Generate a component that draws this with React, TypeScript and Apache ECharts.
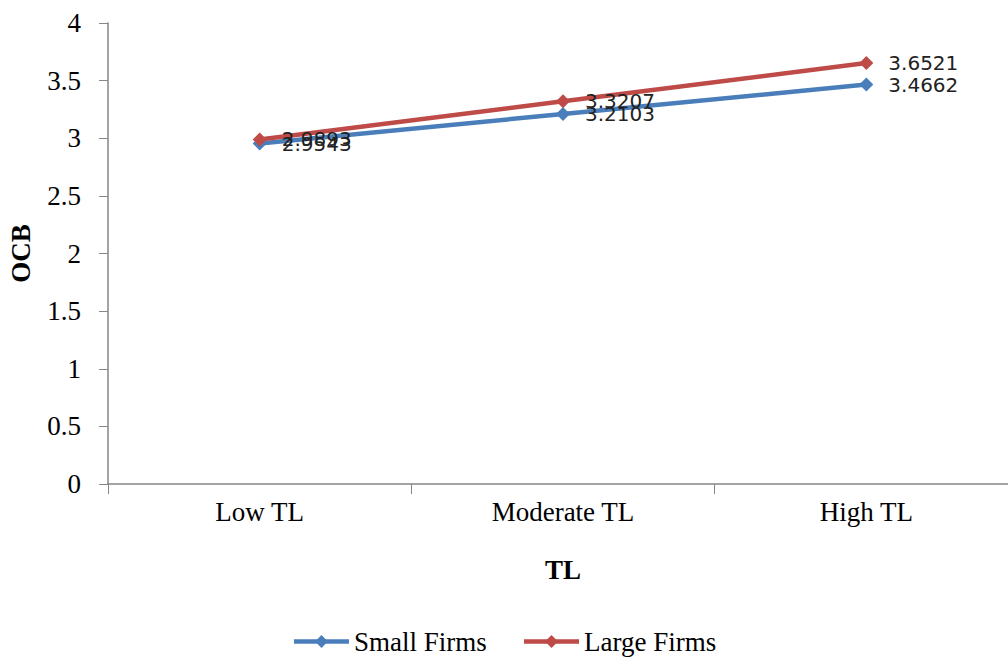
import React, { useEffect, useRef } from "react";
import * as echarts from "echarts";

// Category labels along the TL axis
const categories: string[] = ["Low TL", "Moderate TL", "High TL"];

// OCB means per firm size
const smallFirms: number[] = [2.9543, 3.2103, 3.4662];
const largeFirms: number[] = [2.9893, 3.3207, 3.6521];

const seriesNames: string[] = ["Small Firms", "Large Firms"];

const SERIF = "'Liberation Serif', 'DejaVu Serif', serif";
const SANS = "'DejaVu Sans', Verdana, sans-serif";
const AXIS_GRAY = "#868686";
const BLUE = "#4A7EBB";
const RED = "#BE4B48";

export default function App() {
  const ref = useRef<HTMLDivElement | null>(null);

  useEffect(() => {
    if (!ref.current) return;
    const chart = echarts.init(ref.current, undefined, { renderer: "svg" });

    const makeSeries = (name: string, data: number[], color: string) => ({
      name,
      type: "line",
      data,
      symbol: "diamond",
      symbolSize: 14,
      lineStyle: { color, width: 4.5 },
      itemStyle: { color },
      label: {
        show: true,
        position: "right",
        distance: 15,
        formatter: (p: any) => p.value.toFixed(4),
        fontFamily: SANS,
        fontSize: 20,
        color: "#222222",
      },
    });

    chart.setOption({
      animation: false,
      backgroundColor: "#ffffff",
      grid: {
        left: 108,
        right: -10,
        top: 23,
        bottom: 176,
        containLabel: false,
        outerBoundsMode: "none",
      },
      xAxis: {
        type: "category",
        data: categories,
        boundaryGap: true,
        name: "TL",
        nameLocation: "middle",
        nameGap: 72,
        nameTextStyle: { fontFamily: SERIF, fontSize: 27, fontWeight: "bold", color: "#000" },
        axisLine: { show: true, lineStyle: { color: AXIS_GRAY, width: 1.5 } },
        axisTick: { show: true, alignWithLabel: false, length: 10, lineStyle: { color: AXIS_GRAY } },
        axisLabel: { fontFamily: SERIF, fontSize: 27, color: "#000", margin: 14 },
        splitLine: { show: false },
      },
      yAxis: {
        type: "value",
        min: 0,
        max: 4,
        interval: 0.5,
        name: "OCB",
        nameLocation: "middle",
        nameGap: 74,
        nameRotate: 90,
        nameTextStyle: { fontFamily: SERIF, fontSize: 27, fontWeight: "bold", color: "#000" },
        axisLine: { show: true, lineStyle: { color: AXIS_GRAY, width: 1.5 } },
        axisTick: { show: true, inside: false, length: 9, lineStyle: { color: AXIS_GRAY } },
        axisLabel: { fontFamily: SERIF, fontSize: 27, color: "#000", margin: 27 },
        splitLine: { show: false },
      },
      legend: {
        data: seriesNames,
        bottom: 0,
        left: "center",
        itemWidth: 55,
        itemHeight: 16,
        itemGap: 35,
        lineStyle: { width: 4.5 },
        textStyle: { fontFamily: SERIF, fontSize: 27, color: "#000" },
      },
      series: [
        makeSeries(seriesNames[0], smallFirms, BLUE),
        makeSeries(seriesNames[1], largeFirms, RED),
      ],
    });

    return () => chart.dispose();
  }, []);

  return (
    <div
      ref={ref}
      style={{ position: "absolute", left: 0, top: 0, width: 1008, height: 660, background: "#fff" }}
    />
  );
}
